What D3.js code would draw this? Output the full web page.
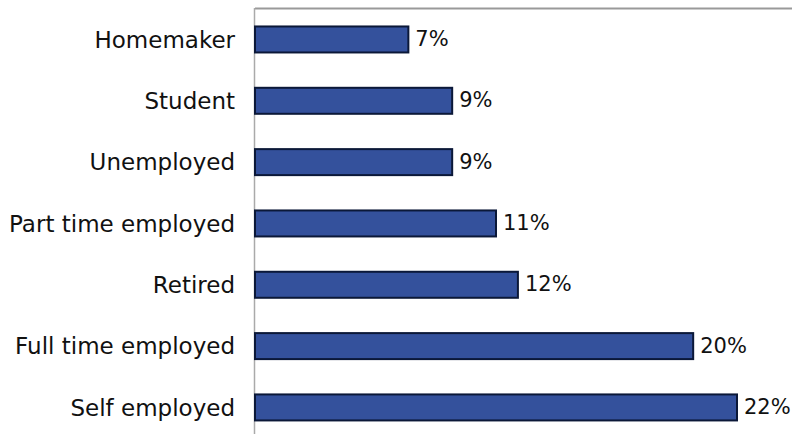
<!DOCTYPE html>
<html>
<head>
<meta charset="utf-8">
<script src="https://cdn.jsdelivr.net/npm/d3@7"></script>
<style>
  html, body { margin: 0; padding: 0; background: #ffffff; }
  svg { display: block; }
</style>
</head>
<body>
<svg id="chart" width="792" height="434"></svg>
<script>
// Employment status shares (percent)
const categories = ["Homemaker", "Student", "Unemployed", "Part time employed", "Retired", "Full time employed", "Self employed"];
const values = [7, 9, 9, 11, 12, 20, 22];

const svg = d3.select("#chart");
const plot = { left: 255, top: 9, right: 792, bottom: 434 };

const x = d3.scaleLinear().domain([0, 22]).range([plot.left, 737]);
const y = d3.scaleBand()
  .domain(categories)
  .range([14.2, 432.7])
  .paddingInner(0.576)
  .paddingOuter(0.2);

// plot frame: top border and left axis line
svg.append("line")
  .attr("x1", plot.left).attr("x2", plot.right)
  .attr("y1", 8.5).attr("y2", 8.5)
  .attr("stroke", "#999").attr("stroke-width", 2);
svg.append("line")
  .attr("x1", plot.left - 0.5).attr("x2", plot.left - 0.5)
  .attr("y1", 8).attr("y2", plot.bottom)
  .attr("stroke", "#aaa").attr("stroke-width", 1.5);

const data = categories.map((c, i) => ({ c, v: values[i] }));

svg.append("g").selectAll("rect")
  .data(data)
  .join("rect")
  .attr("x", x(0))
  .attr("y", d => y(d.c))
  .attr("width", d => x(d.v) - x(0))
  .attr("height", y.bandwidth())
  .attr("fill", "#34519c")
  .attr("stroke", "#0b1838")
  .attr("stroke-width", 2);

// category labels
svg.append("g").selectAll("text")
  .data(data)
  .join("text")
  .attr("x", plot.left - 20)
  .attr("y", d => y(d.c) + y.bandwidth() / 2)
  .attr("dy", "0.36em")
  .attr("text-anchor", "end")
  .attr("font-family", "DejaVu Sans, Verdana, sans-serif")
  .attr("font-size", 23)
  .attr("fill", "#111")
  .text(d => d.c);

// value labels
svg.append("g").selectAll("text")
  .data(data)
  .join("text")
  .attr("x", d => x(d.v) + 7)
  .attr("y", d => y(d.c) + y.bandwidth() / 2 - 1)
  .attr("dy", "0.36em")
  .attr("font-family", "DejaVu Sans, Verdana, sans-serif")
  .attr("font-size", 21)
  .attr("fill", "#111")
  .text(d => d.v + "%");
</script>
</body>
</html>
